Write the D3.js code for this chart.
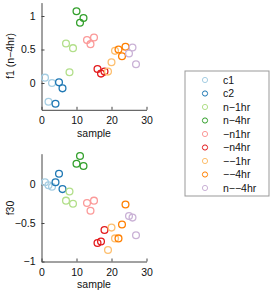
<!DOCTYPE html>
<html><head><meta charset="utf-8">
<script src="https://cdn.jsdelivr.net/npm/d3@7"></script>
<style>body{margin:0;background:#fff;} text{font-family:"Liberation Sans",Arial,sans-serif;}</style>
</head><body><svg id="c" width="272" height="293"></svg>
<script>
const groups = ["c1","c2","n−1hr","n−4hr","−n1hr","−n4hr","−−1hr","−−4hr","n−−4hr"];
const colors = ["#a6cee3","#1f78b4","#b2df8a","#33a02c","#fb9a99","#e31a1c","#fdbf6f","#ff7f00","#cab2d6"];
const samples = d3.range(1, 28);
const f1 = [0.08,-0.28,0.0, -0.31,0.01,-0.08, 0.59,0.16,0.52, 1.07,0.90,0.97, 0.64,0.58,0.68, 0.21,0.14,0.17, 0.17,0.31,0.48, 0.50,0.40,0.54, 0.44,0.53,0.28];
const f30 = [0.03,-0.01,-0.03, 0.03,0.14,-0.06, -0.21,-0.09,-0.25, 0.27,0.37,0.24, -0.24,-0.34,-0.21, -0.76,-0.74,-0.59, -0.85,-0.56,-0.70, -0.70,-0.52,-0.26, -0.41,-0.43,-0.66];
const xTicks = [0,10,20,30];
const yTicks1 = [0,0.5,1];
const yTicks2 = [-1,-0.5,0];

const svg = d3.select("#c");
const axisColor = "#444";

function panel(vals, yDomain, yRange, yTicks, yFmt, ylabel, xTickY, xLabelY, ylabelY){
  const x = d3.scaleLinear().domain([0,30]).range([41.5,146.5]);
  const y = d3.scaleLinear().domain(yDomain).range(yRange);
  const g = svg.append("g");
  // axes
  const xa = g.append("g").attr("transform",`translate(0,${yRange[0]})`)
    .call(d3.axisBottom(x).tickValues(xTicks).tickSizeInner(-3).tickSizeOuter(0).tickPadding(7));
  const ya = g.append("g").attr("transform",`translate(${x.range()[0]},0)`)
    .call(d3.axisLeft(y).tickValues(yTicks).tickFormat(yFmt).tickSizeInner(-3).tickSizeOuter(0).tickPadding(6));
  [xa,ya].forEach(a=>{
    a.select(".domain").attr("stroke",axisColor).attr("stroke-width",1);
    a.selectAll(".tick line").attr("stroke",axisColor);
    a.selectAll(".tick text").attr("font-size",10.5).attr("fill","#111").attr("font-family","Liberation Sans, Arial, sans-serif");
  });
  g.append("text").attr("x",94).attr("y",xLabelY).attr("text-anchor","middle")
    .attr("font-size",10.5).attr("fill","#111").text("sample");
  g.append("text").attr("transform",`translate(14,${ylabelY}) rotate(-90)`).attr("text-anchor","middle")
    .attr("font-size",10.5).attr("fill","#111").text(ylabel);
  g.selectAll("circle.pt").data(samples).enter().append("circle")
    .attr("cx",d=>x(d)).attr("cy",(d,i)=>y(vals[i])).attr("r",3.4)
    .attr("fill","none").attr("stroke-width",1.3)
    .attr("stroke",(d,i)=>colors[Math.floor(i/3)]);
}
const fmt = d=> d===0?"0":(d===1?"1":(d===-1?"−1":String(d).replace("-","−")));
panel(f1,[-0.4,1.2],[109.8,2.6],yTicks1,fmt,"f1 (n−4hr)",0,137,56);
panel(f30,[-1,0.4],[261.5,153.7],yTicks2,fmt,"f30",0,288,208);

// legend
const lg = svg.append("g");
lg.append("rect").attr("x",185).attr("y",71).attr("width",84).attr("height",125)
  .attr("fill","#fff").attr("stroke","#999").attr("stroke-width",1);
const ly = d3.scalePoint().domain(groups).range([80,188]);
groups.forEach((gname,i)=>{
  lg.append("circle").attr("cx",205).attr("cy",ly(gname)).attr("r",2.6)
    .attr("fill","none").attr("stroke",colors[i]).attr("stroke-width",1);
  lg.append("text").attr("x",223).attr("y",ly(gname)+3.6).attr("font-size",10.5)
    .attr("fill","#111").text(gname);
});
</script></body></html>
